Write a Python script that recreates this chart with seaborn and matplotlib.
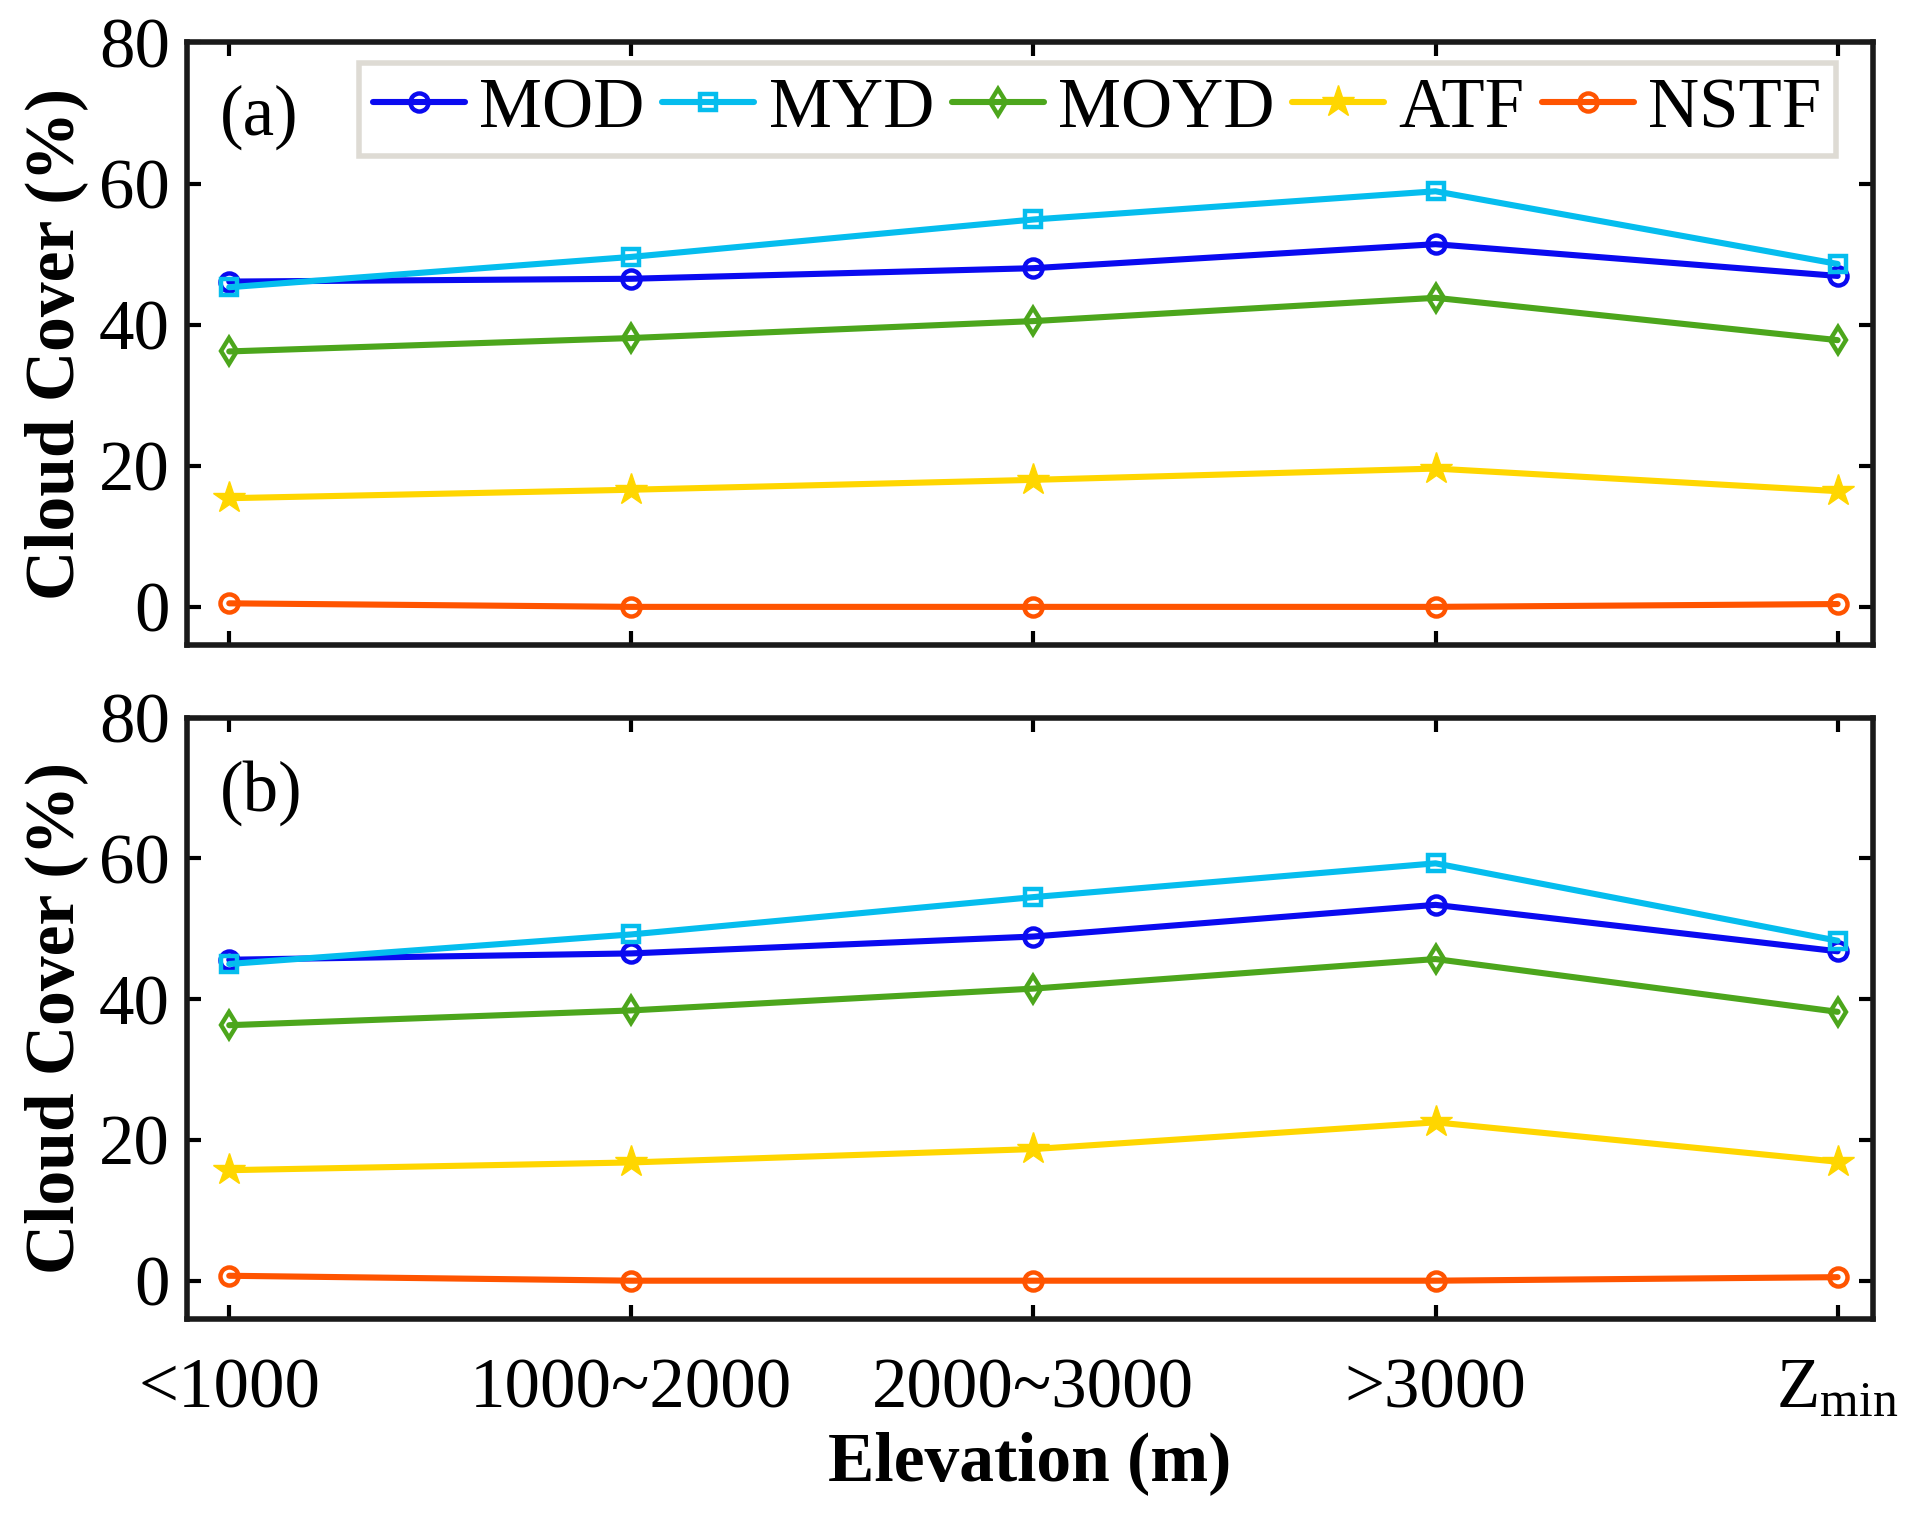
import numpy as np
import pandas as pd
import matplotlib
matplotlib.use("Agg")
import matplotlib.pyplot as plt
import seaborn as sns

categories = ["<1000", "1000~2000", "2000~3000", ">3000", "Zmin"]
tick_labels = ["<1000", "1000~2000", "2000~3000", ">3000", r"$\mathregular{Z_{min}}$"]
series_names = ["MOD", "MYD", "MOYD", "ATF", "NSTF"]

# Panel (a)
a_MOD = [46.1, 46.5, 48.0, 51.4, 46.9]
a_MYD = [45.3, 49.6, 54.9, 58.9, 48.6]
a_MOYD = [36.2, 38.1, 40.5, 43.8, 37.8]
a_ATF = [15.4, 16.6, 18.0, 19.6, 16.4]
a_NSTF = [0.5, 0.0, 0.0, 0.0, 0.4]

# Panel (b)
b_MOD = [45.6, 46.5, 48.9, 53.4, 46.8]
b_MYD = [45.0, 49.2, 54.5, 59.3, 48.3]
b_MOYD = [36.3, 38.4, 41.5, 45.7, 38.2]
b_ATF = [15.7, 16.8, 18.7, 22.5, 16.9]
b_NSTF = [0.7, 0.0, 0.0, 0.0, 0.5]

panel_labels = ["(a)", "(b)"]
y_ticks = [0, 20, 40, 60, 80]

colors = {"MOD": "#0a0af0", "MYD": "#05bdee", "MOYD": "#4ca61c",
          "ATF": "#ffd600", "NSTF": "#ff5400"}
markers = {"MOD": "o", "MYD": "s", "MOYD": "d", "ATF": "*", "NSTF": "o"}
msizes = {"MOD": 13, "MYD": 11, "MOYD": 13, "ATF": 24, "NSTF": 13}

sns.set_theme(style="white")
plt.rcParams["font.family"] = ["Liberation Serif", "DejaVu Serif"]
plt.rcParams["mathtext.fontset"] = "custom"
plt.rcParams["mathtext.rm"] = "Liberation Serif"
for k in ["text.color", "axes.labelcolor", "xtick.color", "ytick.color"]:
    plt.rcParams[k] = "black"

fig = plt.figure(figsize=(19.12, 15.14), dpi=100)
ax_a = fig.add_axes([0.0976, 0.574, 0.882, 0.398])
ax_b = fig.add_axes([0.0976, 0.129, 0.882, 0.397])

panels = [
    (ax_a, [a_MOD, a_MYD, a_MOYD, a_ATF, a_NSTF]),
    (ax_b, [b_MOD, b_MYD, b_MOYD, b_ATF, b_NSTF]),
]

for i, (ax, vals) in enumerate(panels):
    rows = []
    for name, v in zip(series_names, vals):
        for j, c in enumerate(categories):
            rows.append({"x": j, "y": v[j], "series": name})
    df = pd.DataFrame(rows)
    for name in series_names:
        sub = df[df["series"] == name]
        filled = name == "ATF"
        sns.lineplot(data=sub, x="x", y="y", ax=ax, color=colors[name],
                     linewidth=4.4, marker=markers[name],
                     markersize=msizes[name],
                     markerfacecolor=colors[name] if filled else "none",
                     markeredgecolor=colors[name],
                     markeredgewidth=1 if filled else 3.2,
                     label=name, legend=False)
    ax.set_xlim(-0.106, 4.088)
    ax.set_ylim(-5.4, 80)
    ax.set_yticks(y_ticks)
    ax.set_yticklabels([str(t) for t in y_ticks], fontsize=51)
    ax.set_xticks(range(len(categories)))
    if i == 1:
        ax.set_xticklabels(tick_labels, fontsize=51)
        ax.set_xlabel("Elevation (m)", fontsize=50, fontweight="bold", labelpad=6)
    else:
        ax.set_xticklabels([])
        ax.set_xlabel("")
    ax.set_ylabel("Cloud Cover (%)", fontsize=50, fontweight="bold", labelpad=8)
    ax.tick_params(direction="in", length=10, width=3, top=True, right=True,
                   bottom=True, left=True)
    ax.tick_params(axis="y", pad=12)
    ax.tick_params(axis="x", pad=28)
    for s in ax.spines.values():
        s.set_linewidth(4)
        s.set_color("#1a1a1a")
    ax.text(0.02, 0.93, panel_labels[i], transform=ax.transAxes,
            fontsize=51, va="top", ha="left")

handles, labels = ax_a.get_legend_handles_labels()
leg = ax_a.legend(handles, labels, ncol=5, loc="upper right",
                  bbox_to_anchor=(0.978, 0.966), borderaxespad=0,
                  fontsize=51, handlelength=1.3, handletextpad=0.2,
                  columnspacing=0.25, frameon=True, fancybox=False,
                  borderpad=0.2)
leg.get_frame().set_edgecolor("#d6d2ca")
leg.get_frame().set_linewidth(4)

fig.savefig("out.png", dpi=100)
